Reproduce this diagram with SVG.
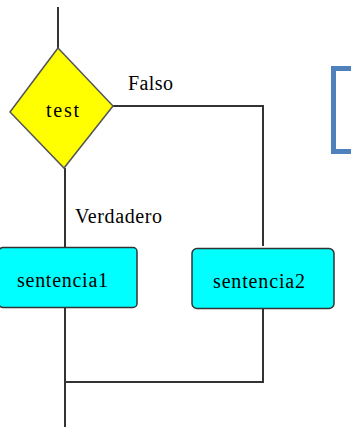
<svg xmlns="http://www.w3.org/2000/svg" width="351" height="436" viewBox="0 0 351 436">
<style>
.ln{fill:none;stroke:#333;stroke-width:2}
.box{fill:#00ffff;stroke:#333;stroke-width:1.5}
text{font-size:20px;fill:#000}
</style>
<rect width="351" height="436" fill="#fff"/>
<g id="connectors">
<line class="ln" x1="58" y1="7" x2="58" y2="48"/>
<polyline class="ln" points="113,106 263,106 263,246"/>
<line class="ln" x1="65" y1="168" x2="65" y2="247"/>
<polyline class="ln" points="263,309 263,382 65,382"/>
<line class="ln" x1="65" y1="307" x2="65" y2="427"/>
</g>
<g id="test">
<polygon points="58,48 113,106 64,168 10,112" fill="#ffff00" stroke="#555" stroke-width="1.5"/>
<text font-family="Liberation Serif, DejaVu Serif, serif" x="46" y="117" textLength="33" lengthAdjust="spacing">test</text>
</g>
<g id="label-falso"><text font-family="Liberation Serif, DejaVu Serif, serif" x="128" y="90" textLength="45" lengthAdjust="spacing">Falso</text></g>
<g id="label-verdadero"><text font-family="Liberation Serif, DejaVu Serif, serif" x="75" y="223" textLength="87" lengthAdjust="spacing">Verdadero</text></g>
<g id="sentencia1">
<rect class="box" x="-1" y="247.5" width="138" height="60" rx="4"/>
<text font-family="Liberation Serif, DejaVu Serif, serif" x="17" y="287" textLength="91" lengthAdjust="spacing">sentencia1</text>
</g>
<g id="sentencia2">
<rect class="box" x="192" y="248.5" width="142" height="60" rx="5"/>
<text font-family="Liberation Serif, DejaVu Serif, serif" x="213" y="288" textLength="92" lengthAdjust="spacing">sentencia2</text>
</g>
<g id="blue-box">
<rect x="333.5" y="68.5" width="30" height="83" fill="none" stroke="#4f81bd" stroke-width="5"/>
</g>
</svg>
